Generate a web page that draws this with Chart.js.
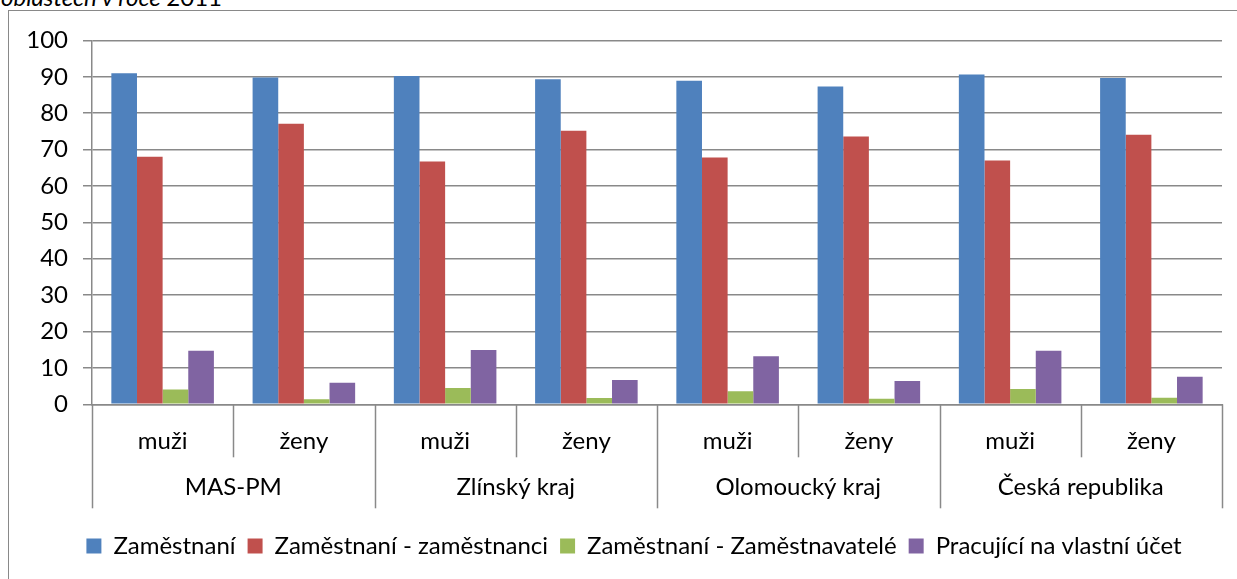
<!DOCTYPE html>
<html lang="cs">
<head>
<meta charset="utf-8">
<title>Zaměstnanost podle pohlaví</title>
<script src="https://cdn.jsdelivr.net/npm/chart.js@4.4.0/dist/chart.umd.min.js"></script>
<style>
  html, body { margin: 0; padding: 0; background: #fff; width: 1237px; height: 579px; overflow: hidden; }
  #nadpis { position: absolute; left: 1px; top: -18px; font: italic 24px Lato, sans-serif; color: #000; white-space: nowrap; }
  #nadpis span { font-style: normal; }
  #ramec { position: absolute; left: 8px; top: 10px; width: 1300px; height: 700px; border: 1.5px solid #898989; box-sizing: border-box; }
  #graf { position: absolute; left: 9px; top: 11px; }
</style>
</head>
<body>
<div id="nadpis">oblastech v roce <span>2011</span></div>
<div id="ramec"></div>
<canvas id="graf" width="1250" height="568"></canvas>
<script>
// územní celky a pohlaví (dvouúrovňová osa x)
const skupiny = ['MAS-PM', 'Zlínský kraj', 'Olomoucký kraj', 'Česká republika'];
const pohlavi = ['muži', 'ženy'];
const kategorie = skupiny.flatMap(s => pohlavi.map(p => s + ' – ' + p));

// podíly v %
const zamestnani     = [91.0, 89.8, 90.2, 89.3, 88.9, 87.3, 90.6, 89.7];
const zamestnanci    = [68.0, 77.1, 66.7, 75.2, 67.8, 73.6, 67.0, 74.1];
const zamestnavatele = [4.1, 1.4, 4.5, 1.7, 3.6, 1.5, 4.2, 1.8];
const vlastniUcet    = [14.7, 5.9, 14.9, 6.7, 13.2, 6.4, 14.7, 7.6];

const osaMin = 0, osaMax = 100, osaKrok = 10;

const pismo = { family: 'Lato, sans-serif', size: 24 };
const seda = '#898989';

// popisky pod osou x: pohlaví a pod nimi celky, oddělené svislými čarami
const tabulkaKategorii = {
  id: 'tabulkaKategorii',
  afterDraw(chart) {
    const { ctx } = chart;
    const x = chart.scales.x;
    const n = kategorie.length;
    const sirka = (x.right - x.left) / n;
    const y0 = chart.chartArea.bottom;

    ctx.save();
    ctx.strokeStyle = seda;
    ctx.lineWidth = 1.5;
    for (let i = 0; i <= n; i++) {
      const px = Math.round(x.left + i * sirka) + 0.5;
      const konec = i % pohlavi.length === 0 ? y0 + 104 : y0 + 53;
      ctx.beginPath();
      ctx.moveTo(px, y0);
      ctx.lineTo(px, konec);
      ctx.stroke();
    }

    ctx.fillStyle = '#000';
    ctx.font = `${pismo.size}px ${pismo.family}`;
    ctx.textAlign = 'center';
    ctx.textBaseline = 'middle';
    for (let i = 0; i < n; i++) {
      ctx.fillText(pohlavi[i % pohlavi.length], x.getPixelForValue(i), y0 + 37);
    }
    skupiny.forEach((s, j) => {
      const stred = x.left + (j + 0.5) * pohlavi.length * sirka;
      ctx.fillText(s, stred, y0 + 83);
    });
    ctx.restore();
  }
};

new Chart(document.getElementById('graf'), {
  type: 'bar',
  data: {
    labels: kategorie,
    datasets: [
      { label: 'Zaměstnaní', data: zamestnani, backgroundColor: '#4f81bd' },
      { label: 'Zaměstnaní - zaměstnanci', data: zamestnanci, backgroundColor: '#c0504d' },
      { label: 'Zaměstnaní - Zaměstnavatelé', data: zamestnavatele, backgroundColor: '#9bbb59' },
      { label: 'Pracující na vlastní účet', data: vlastniUcet, backgroundColor: '#8064a2' }
    ]
  },
  options: {
    responsive: false,
    animation: false,
    devicePixelRatio: 1,
    categoryPercentage: 0.726,
    barPercentage: 1,
    layout: { padding: { top: 28, bottom: 11, left: 0, right: 0 } },
    scales: {
      x: {
        grid: { display: false },
        ticks: { display: false },
        border: { color: seda, width: 1.5 },
        afterFit(s) { s.height = 117.7; }
      },
      y: {
        min: osaMin,
        max: osaMax,
        ticks: { stepSize: osaKrok, color: '#000', font: pismo, padding: 15 },
        grid: { color: seda, lineWidth: 1.5, tickLength: 9 },
        border: { color: seda, width: 1.5 },
        afterFit(s) { s.width = 83; }
      },
      rezerva: {
        type: 'linear',
        position: 'right',
        grid: { display: false },
        ticks: { display: false },
        border: { display: false },
        afterFit(s) { s.width = 37; }
      }
    },
    plugins: {
      legend: {
        position: 'bottom',
        labels: { color: '#000', font: pismo, boxWidth: 15, boxHeight: 15, padding: 12 }
      },
      tooltip: { enabled: false }
    }
  },
  plugins: [tabulkaKategorii]
});
</script>
</body>
</html>
